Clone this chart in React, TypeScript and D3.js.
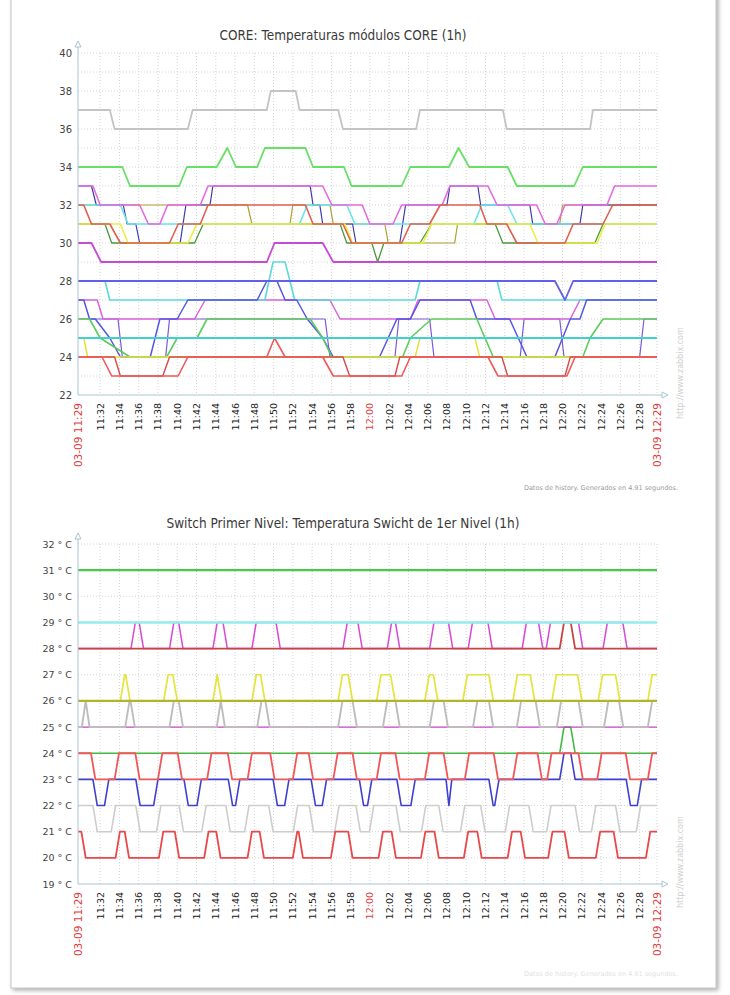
import React from 'react';
import * as d3 from 'd3';

type Pt = [number, number];
type Span = [number, number];

// time is stored as minutes after 11:00 on 03-09
const DAY = new Date(2011, 2, 9, 11, 0, 0);
const toDate = (m: number) => new Date(DAY.getTime() + m * 60000);
const T_START = 29.7;
const T_END = 89.8;

// ---------------- CORE chart (°C) ----------------
const coreGray: Pt[] = [[29.7,37],[33.0,37],[33.5,36],[41.1,36],[41.6,37],[49.3,37],[49.7,38],[52.3,38],[52.7,37],[56.7,37],[57.2,36],[64.8,36],[65.2,37],[73.8,37],[74.2,36],[82.85,36],[83.15,37],[89.8,37]];
const coreGreen: Pt[] = [[29.7,34],[34.3,34],[35.1,33],[40.2,33],[41.0,34],[44.1,34],[45.2,35],[46.1,34],[48.3,34],[49.1,35],[53.3,35],[54.1,34],[57.3,34],[58.1,33],[63.3,33],[64.2,34],[68.2,34],[69.2,35],[70.3,34],[74.3,34],[75.25,33],[81.2,33],[82.1,34],[89.8,34]];
const coreMagentaHigh: Pt[] = [[29.7,33],[31.25,33],[32.0,32],[36.1,32],[37.0,31],[38.2,31],[39.0,32],[42.4,32],[43.2,33],[55.1,33],[56.05,32],[59.2,32],[60.0,31],[62.4,31],[63.3,32],[67.5,32],[68.3,33],[72.25,33],[73.2,32],[77.3,32],[78.2,31],[79.4,31],[80.25,32],[84.6,32],[85.4,33],[89.8,33]];
const coreCyanHigh: Pt[] = [[29.7,32],[34.1,32],[34.9,31],[52.7,31],[53.5,32],[57.6,32],[58.45,31],[70.8,31],[71.6,32],[74.3,32],[75.25,31],[89.8,31]];
const coreRedHigh: Pt[] = [[29.7,32],[30.3,32],[31.1,31],[33.0,31],[34.1,30],[39.2,30],[40.1,31],[42.4,31],[43.2,32],[53.3,32],[54.1,31],[57.2,31],[58.1,30],[63.3,30],[64.2,31],[66.2,31],[67.3,32],[71.4,32],[72.15,31],[74.2,31],[75.25,30],[80.25,30],[81.1,31],[84.2,31],[85.2,32],[89.8,32]];
const coreYellowHigh: Pt[] = [[29.7,31],[34.1,31],[34.9,30],[41.1,30],[42.05,31],[57.4,31],[58.2,30],[65.5,30],[66.4,31],[76.6,31],[77.45,30],[83.6,30],[84.4,31],[89.8,31]];
const coreDarkGreen: Pt[] = [[29.7,31],[32.5,31],[33.2,30],[41.8,30],[42.7,31],[56.9,31],[57.6,30],[60.2,30],[60.8,29],[61.45,30],[65.2,30],[66.4,31],[73.0,31],[73.8,30],[83.35,30],[84.2,31],[89.8,31]];
const coreDarkBlue: Pt[] = [[29.7,33],[31.1,33],[31.6,32],[34.4,32],[34.8,31],[35.7,31],[36.1,30],[40.3,30],[40.6,31],[40.9,32],[43.4,32],[43.7,33],[53.8,33],[54.1,32],[54.8,32],[55.1,31],[58.2,31],[58.55,30],[63.1,30],[63.4,31],[63.7,32],[68.0,32],[68.3,33],[71.2,33],[71.5,32],[76.6,32],[76.9,31],[81.8,31],[82.1,32],[89.8,32]];
const coreOlive: Pt[] = [[29.7,32],[47.3,32],[47.75,31],[51.7,31],[52.0,32],[55.85,32],[56.2,31],[61.55,31],[61.9,30],[68.8,30],[69.1,31],[79.7,31],[80.0,32],[89.8,32]];
const coreViolet: Pt[] = [[29.7,30],[31.1,30],[32.1,29],[49.3,29],[50.1,30],[55.1,30],[56.2,29],[89.8,29]];
const coreBlue28: Pt[] = [[29.7,28],[79.2,28],[80.25,27],[81.1,28],[89.8,28]];
const coreCyan27: Pt[] = [[29.7,28],[32.5,28],[33.0,27],[49.1,27],[49.95,29],[51.2,29],[52.2,27],[64.7,27],[65.2,28],[73.2,28],[73.7,27],[89.8,27]];
const coreBlueMid: Pt[] = [[29.7,27],[30.3,27],[30.9,26],[31.5,26],[33.0,25],[34.1,24],[37.2,24],[37.7,25],[38.2,26],[40.0,26],[41.1,27],[48.3,27],[49.3,28],[50.35,28],[51.2,27],[52.4,27],[53.5,26],[55.1,25],[56.2,24],[61.0,24],[62.8,26],[64.2,26],[65.2,27],[70.4,27],[71.1,26],[74.5,26],[76.3,24],[79.2,24],[80.8,26],[81.8,26],[82.5,27],[89.8,27]];
const coreMagentaLow: Pt[] = [[29.7,27],[31.7,27],[32.3,26],[41.8,26],[42.9,27],[55.85,27],[56.9,26],[64.2,26],[65.0,27],[72.15,27],[73.0,26],[80.8,26],[81.8,27],[89.8,27]];
const coreGreenLow: Pt[] = [[29.7,26],[30.9,26],[32.0,25],[35.1,24],[38.9,24],[40.0,25],[42.05,25],[43.1,26],[53.8,26],[55.1,25],[56.05,24],[63.4,24],[64.2,25],[66.4,26],[71.1,26],[72.8,24],[82.1,24],[82.85,25],[84.2,26],[89.8,26]];
const coreCyan25: Pt[] = [[29.7,25],[89.8,25]];
const coreRedLow: Pt[] = [[29.7,24],[32.2,24],[33.2,23],[40.1,23],[41.1,24],[49.3,24],[50.1,25],[51.2,24],[55.1,24],[56.2,23],[63.3,23],[64.2,24],[72.25,24],[73.3,23],[80.45,23],[81.3,24],[89.8,24]];
const coreRedLow2: Pt[] = [[29.7,24],[33.5,24],[34.1,23],[38.5,23],[39.2,24],[57.2,24],[57.9,23],[62.6,23],[63.1,24],[73.7,24],[74.3,23],[80.25,23],[80.8,24],[89.8,24]];
const coreYellowLow: Pt[] = [[29.7,25],[30.3,25],[30.7,24],[64.7,24],[65.2,25],[70.9,25],[71.4,24],[89.8,24]];
const corePurpleLow: Pt[] = [[29.7,26],[33.85,26],[34.3,24],[38.8,24],[39.2,26],[55.35,26],[55.85,24],[62.6,24],[63.0,26],[66.2,26],[66.65,24],[75.6,24],[76.0,26],[79.7,26],[80.15,24],[88.0,24],[88.45,26],[89.8,26]];

// ---------------- Switch chart: base level + spans spent at another level ----------------
const swMagentaUp: Span[] = [[35.2,36.5],[39.2,40.6],[43.7,45.2],[47.75,50.7],[57.2,59.2],[61.8,63.1],[66.2,68.6],[70.2,72.7],[75.8,77.95],[78.3,82.1],[84.2,86.7]];
const swRed28Up: Span[] = [[79.7,81.3]];
const swYellowUp: Span[] = [[34.1,35.1],[38.6,40.0],[43.7,44.6],[47.75,49.1],[56.7,58.2],[60.7,62.6],[65.7,67.05],[69.65,72.8],[74.85,77.1],[78.9,82.0],[83.7,85.95],[88.85,95]];
const swGrayUp: Span[] = [[30.1,30.9],[34.6,35.6],[39.2,40.6],[44.1,44.95],[48.3,49.6],[56.7,58.65],[61.35,63.1],[66.2,68.1],[70.7,72.8],[75.25,77.65],[79.4,82.1],[84.3,86.3],[88.85,95]];
const swGreenUp: Span[] = [[79.7,81.3]];
const swRedUp: Span[] = [[20,31.5],[33.5,36.1],[38.0,40.5],[43.1,45.7],[47.3,50.1],[52.0,54.1],[56.2,58.65],[60.7,63.1],[65.7,68.1],[69.85,73.3],[74.85,77.85],[78.4,82.1],[83.6,87.0],[88.85,95]];
const swBlueDown: Span[] = [[31.25,32.9],[35.7,38.0],[40.7,42.5],[45.3,46.5],[49.95,51.6],[53.9,55.5],[58.9,60.2],[62.8,64.7],[67.9,68.5],[72.35,73.4],[86.6,88.2]];
const swBlueUp: Span[] = [[79.7,81.3]];
const swSilverDown: Span[] = [[31.25,33.6],[35.7,38.3],[40.2,43.0],[45.05,47.45],[49.5,52.5],[53.7,56.8],[58.55,60.4],[62.7,65.8],[67.15,69.85],[71.5,74.5],[76.5,78.8],[81.3,83.45],[85.5,88.1]];
const swRedLowUp: Span[] = [[20,30.5],[33.6,35.0],[38.1,40.2],[42.8,44.5],[47.3,49.0],[52.0,53.05],[55.95,58.2],[60.9,62.7],[65.3,67.15],[69.75,71.6],[74.3,76.1],[78.5,80.65],[83.45,85.75],[88.65,95]];

const RAMP = 0.45;
function levelSeries(base: number, parts: { spans: Span[]; level: number }[]): Pt[] {
  const all: [number, number, number][] = [];
  parts.forEach(p => p.spans.forEach(s => all.push([s[0], s[1], p.level])));
  all.sort((a, b) => a[0] - b[0]);
  const pts: Pt[] = [[10, base]];
  for (const [a, b, l] of all) {
    const r = Math.min(RAMP, (b - a) / 2);
    pts.push([a, base], [a + r, l], [b - r, l], [b, base]);
  }
  pts.push([100, base]);
  return pts;
}

const coreLines = [
  { d: coreGray, c: '#c4c4c4', w: 1.8 },
  { d: coreGreen, c: '#66e066', w: 1.8 },
  { d: coreOlive, c: '#b0a030', w: 1.2 },
  { d: coreDarkBlue, c: '#3a3ab0', w: 1.2 },
  { d: coreDarkGreen, c: '#4a9a3a', w: 1.3 },
  { d: coreCyanHigh, c: '#6ae4ec', w: 1.6 },
  { d: coreYellowHigh, c: '#eeee40', w: 1.6 },
  { d: coreMagentaHigh, c: '#e46ae4', w: 1.6 },
  { d: coreRedHigh, c: '#e06050', w: 1.6 },
  { d: coreViolet, c: '#c848d8', w: 1.8 },
  { d: corePurpleLow, c: '#7a5ad8', w: 1.2 },
  { d: coreMagentaLow, c: '#dc62dc', w: 1.5 },
  { d: coreCyan27, c: '#5cdada', w: 1.6 },
  { d: coreBlueMid, c: '#5656e4', w: 1.5 },
  { d: coreBlue28, c: '#6060e8', w: 1.8 },
  { d: coreGreenLow, c: '#5ccc5c', w: 1.6 },
  { d: coreYellowLow, c: '#e8e040', w: 1.5 },
  { d: coreRedLow2, c: '#d84848', w: 1.4 },
  { d: coreRedLow, c: '#ee5a5a', w: 1.6 },
  { d: coreCyan25, c: '#40d0d0', w: 2.2 },
];

const switchLines = [
  { d: levelSeries(22, [{ spans: swSilverDown, level: 21 }]), c: '#cdcdcd', w: 1.6 },
  { d: levelSeries(20, [{ spans: swRedLowUp, level: 21 }]), c: '#e84848', w: 1.8 },
  { d: levelSeries(23, [{ spans: swBlueDown, level: 22 }, { spans: swBlueUp, level: 24 }]), c: '#4040d0', w: 1.6 },
  { d: levelSeries(24, [{ spans: swGreenUp, level: 25 }]), c: '#44bb44', w: 1.6 },
  { d: levelSeries(23, [{ spans: swRedUp, level: 24 }]), c: '#f05858', w: 1.8 },
  { d: levelSeries(25, []), c: '#cc44cc', w: 1.3 },
  { d: levelSeries(25, [{ spans: swGrayUp, level: 26 }]), c: '#bdbdbd', w: 1.9 },
  { d: levelSeries(26, [{ spans: swYellowUp, level: 27 }]), c: '#e4e43c', w: 1.7 },
  { d: levelSeries(26, []), c: '#b4b42a', w: 2.4 },
  { d: levelSeries(28, [{ spans: swMagentaUp, level: 29 }]), c: '#d848d8', w: 1.5 },
  { d: levelSeries(28, [{ spans: swRed28Up, level: 29 }]), c: '#c84444', w: 1.8 },
  { d: levelSeries(29, []), c: '#92ecec', w: 2.6 },
  { d: levelSeries(31, []), c: '#44cc44', w: 2.2 },
];

const coreTicks = d3.range(22, 41, 2);
const switchTicks = d3.range(19, 33, 1);

const X0 = 78;
const X1 = 657;
const AXIS = '#a9c4d4';
const FONT = '"DejaVu Sans", sans-serif';

type PanelProps = {
  id: string;
  title: string;
  titleY: number;
  titleLen: number;
  domain: [number, number];
  top: number;
  bottom: number;
  arrowY: number;
  labels: number[];
  fmt: (v: number) => string;
  labelSize: number;
  lines: { d: Pt[]; c: string; w: number }[];
  footerY: number;
  footerColor: string;
};

function Panel(p: PanelProps) {
  const x = d3.scaleTime().domain([toDate(T_START), toDate(T_END)]).range([X0, X1]);
  const y = d3.scaleLinear().domain(p.domain).range([p.bottom, p.top]);
  const line = d3.line<Pt>().x(d => x(toDate(d[0]))).y(d => y(d[1]));
  const ticks = d3.timeMinute.every(2)!.range(toDate(32), toDate(89));
  const fmt = d3.timeFormat('%H:%M');
  const fmtFull = d3.timeFormat('%m-%d %H:%M');
  const grid = d3.range(p.domain[0] + 1, p.domain[1] + 1);
  const noon = toDate(60).getTime();
  return (
    <g>
      <defs>
        <clipPath id={p.id}>
          <rect x={X0} y={p.top - 2} width={X1 - X0} height={p.bottom - p.top + 2} />
        </clipPath>
      </defs>
      <text x={343} y={p.titleY} textAnchor="middle" fontFamily={FONT} fontSize={13.5} fill="#3a3a3a"
        textLength={p.titleLen} lengthAdjust="spacingAndGlyphs">{p.title}</text>
      {grid.map(v => (
        <line key={'h' + v} x1={X0} x2={X1} y1={y(v)} y2={y(v)} stroke="#d4d4d4" strokeDasharray="1,2" />
      ))}
      {[...ticks.map(t => x(t)), X1].map((xx, i) => (
        <line key={'v' + i} x1={xx} x2={xx} y1={p.top} y2={p.bottom} stroke="#d4d4d4" strokeDasharray="1,2" />
      ))}
      <g clipPath={`url(#${p.id})`}>
        {p.lines.map((l, i) => (
          <path key={i} d={line(l.d) || ''} fill="none" stroke={l.c} strokeWidth={l.w} strokeLinejoin="round" />
        ))}
      </g>
      <line x1={X0} x2={X0} y1={p.arrowY + 6} y2={p.bottom} stroke={AXIS} />
      <path d={`M${X0 - 3},${p.arrowY + 6} L${X0},${p.arrowY} L${X0 + 3},${p.arrowY + 6} Z`} fill="#fff" stroke={AXIS} />
      <line x1={X0} x2={X1 + 5} y1={p.bottom} y2={p.bottom} stroke={AXIS} />
      <path d={`M${X1 + 5},${p.bottom - 3} L${X1 + 11},${p.bottom} L${X1 + 5},${p.bottom + 3} Z`} fill="#fff" stroke={AXIS} />
      {p.labels.map(v => (
        <text key={'y' + v} x={72} y={y(v) + 3.5} textAnchor="end" fontFamily={FONT} fontSize={p.labelSize} fill="#444">
          {p.fmt(v)}
        </text>
      ))}
      {ticks.map((t, i) => {
        const xx = x(t);
        const red = t.getTime() === noon;
        return (
          <text key={'t' + i} transform={`translate(${xx + 3.5},${p.bottom + 8}) rotate(-90)`} textAnchor="end"
            fontFamily={FONT} fontSize={9.5} fill={red ? '#e03c3c' : '#1a1a1a'}>
            {fmt(t)}
          </text>
        );
      })}
      {[T_START, T_END].map((m, i) => (
        <text key={'e' + i} transform={`translate(${(i === 0 ? X0 : X1) + 3.5},${p.bottom + 8}) rotate(-90)`} textAnchor="end"
          fontFamily={FONT} fontSize={10.5} fill="#e03c3c">
          {fmtFull(toDate(m))}
        </text>
      ))}
      <text transform={`translate(683,${p.bottom + 24}) rotate(-90)`} fontFamily={FONT} fontSize={8} fill="#cfcfcf">
        http://www.zabbix.com
      </text>
      <text x={678} y={p.footerY} textAnchor="end" fontFamily={FONT} fontSize={6.5} fill={p.footerColor}>
        Datos de history. Generados en 4.91 segundos.
      </text>
    </g>
  );
}

export default function App() {
  return (
    <svg width={730} height={995} style={{ position: 'absolute', left: 0, top: 0, background: '#fff' }}>
      <defs>
        <filter id="shadow" x="-5%" y="-5%" width="110%" height="110%">
          <feDropShadow dx={2} dy={2} stdDeviation={2} floodColor="#777" floodOpacity={0.6} />
        </filter>
      </defs>
      <rect x={0} y={0} width={730} height={995} fill="#fff" />
      <rect x={11} y={-6} width={705} height={994} fill="#fff" stroke="#c6c6c6" filter="url(#shadow)" />
      <Panel id="clipCore" title="CORE: Temperaturas módulos CORE (1h)" titleY={40} titleLen={247}
        domain={[22, 40]} top={53} bottom={395} arrowY={41} labels={coreTicks} fmt={v => String(v)} labelSize={10}
        lines={coreLines} footerY={490} footerColor="#9a9a9a" />
      <Panel id="clipSwitch" title="Switch Primer Nivel: Temperatura Swicht de 1er Nivel (1h)" titleY={528} titleLen={353}
        domain={[19, 32]} top={544} bottom={884} arrowY={533} labels={switchTicks} fmt={v => `${v} ° C`} labelSize={9.5}
        lines={switchLines} footerY={976} footerColor="#e2e2e2" />
    </svg>
  );
}
